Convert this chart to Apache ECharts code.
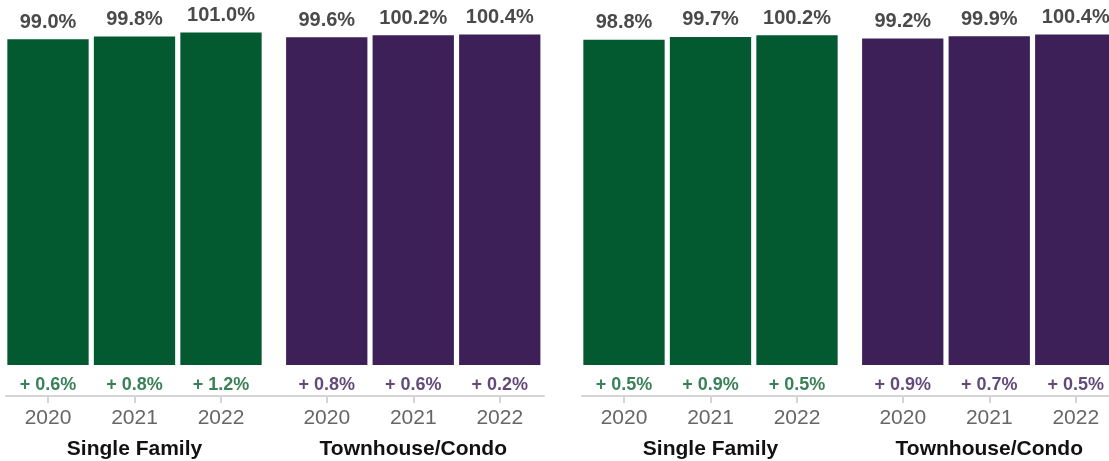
<!DOCTYPE html>
<html>
<head>
<meta charset="utf-8">
<script src="https://cdn.jsdelivr.net/npm/echarts@6/dist/echarts.min.js"></script>
<style>
  html, body { margin: 0; padding: 0; background: #ffffff; }
  #chart { width: 1109px; height: 461px; }
</style>
</head>
<body>
<div id="chart"></div>
<script>
// Year categories and property-type groups
const years = ['2020', '2021', '2022'];
const groupNames = ['Single Family', 'Townhouse/Condo'];

// Left panel: percent of list price received, with year-over-year change
const leftSingleFamily = [99.0, 99.8, 101.0];
const leftSingleFamilyChange = [0.6, 0.8, 1.2];
const leftTownhouse = [99.6, 100.2, 100.4];
const leftTownhouseChange = [0.8, 0.6, 0.2];

// Right panel
const rightSingleFamily = [98.8, 99.7, 100.2];
const rightSingleFamilyChange = [0.5, 0.9, 0.5];
const rightTownhouse = [99.2, 99.9, 100.4];
const rightTownhouseChange = [0.9, 0.7, 0.5];

const GREEN = '#035a30';
const PURPLE = '#3e2059';
const GREEN_TEXT = '#07622e';
const PURPLE_TEXT = '#3a1b58';
const AXIS_GRAY = '#d4d4d4';
const FONT = '"Liberation Sans", Arial, Helvetica, sans-serif';

const panels = [
  { offset: 0, groups: [
    { values: leftSingleFamily, change: leftSingleFamilyChange, color: GREEN, text: GREEN_TEXT },
    { values: leftTownhouse, change: leftTownhouseChange, color: PURPLE, text: PURPLE_TEXT }
  ]},
  { offset: 576, groups: [
    { values: rightSingleFamily, change: rightSingleFamilyChange, color: GREEN, text: GREEN_TEXT },
    { values: rightTownhouse, change: rightTownhouseChange, color: PURPLE, text: PURPLE_TEXT }
  ]}
];

const groupLeft = [4.75, 283.5];
const groupWidth = 259.5;
const gridTop = 3;
const gridBottom = 65;
// value range: bars rise from 0, leaving a strip under them for the change labels
const yMin = -9.42;
const yMax = 110;

const grid = [], xAxis = [], yAxis = [], series = [];

panels.forEach(function (panel) {
  // baseline spanning the whole panel
  const gi = grid.length;
  grid.push({ left: panel.offset + 6, width: 538, top: 300, bottom: gridBottom, outerBoundsMode: 'none', containLabel: false });
  xAxis.push({
    gridIndex: gi, type: 'category', data: [''],
    axisLine: { show: true, lineStyle: { color: AXIS_GRAY, width: 2 } },
    axisTick: { show: false }, axisLabel: { show: false }
  });
  yAxis.push({ gridIndex: gi, type: 'value', show: false });

  panel.groups.forEach(function (g, k) {
    const idx = grid.length;
    grid.push({
      left: panel.offset + groupLeft[k], width: groupWidth, top: gridTop, bottom: gridBottom,
      outerBoundsMode: 'none', containLabel: false
    });
    xAxis.push({
      gridIndex: idx, type: 'category', data: years,
      axisLine: { show: false, onZero: false },
      axisTick: { show: true, alignWithLabel: true, length: 7, lineStyle: { color: AXIS_GRAY, width: 2 } },
      axisLabel: { margin: 12, color: '#666666', fontSize: 21, fontFamily: FONT },
      name: groupNames[k], nameLocation: 'middle', nameGap: 43,
      nameTextStyle: { color: '#111111', fontSize: 21, fontWeight: 'bold', fontFamily: FONT }
    });
    yAxis.push({ gridIndex: idx, type: 'value', min: yMin, max: yMax, show: false });

    series.push({
      type: 'bar', xAxisIndex: idx, yAxisIndex: idx,
      data: g.values, barWidth: '94%',
      itemStyle: { color: g.color },
      label: {
        show: true, position: 'top', distance: 7,
        color: '#4a4a4a', fontSize: 20, fontWeight: 'bold', fontFamily: FONT,
        formatter: function (p) { return p.value.toFixed(1) + '%'; }
      },
      silent: true
    });
    series.push({
      type: 'scatter', xAxisIndex: idx, yAxisIndex: idx,
      data: g.change.map(function (c, i) { return { value: [years[i], 0], change: c }; }),
      symbolSize: 1, clip: false,
      itemStyle: { color: 'rgba(0,0,0,0)' },
      label: {
        show: true, position: 'bottom', distance: 11,
        color: g.text, fontSize: 18, fontWeight: 'bold', fontFamily: FONT,
        formatter: function (p) { return '+ ' + p.data.change.toFixed(1) + '%'; }
      },
      silent: true
    });
  });
});

const chart = echarts.init(document.getElementById('chart'), null, { renderer: 'canvas' });
chart.setOption({
  animation: false,
  backgroundColor: '#ffffff',
  grid: grid, xAxis: xAxis, yAxis: yAxis, series: series
});
</script>
</body>
</html>
